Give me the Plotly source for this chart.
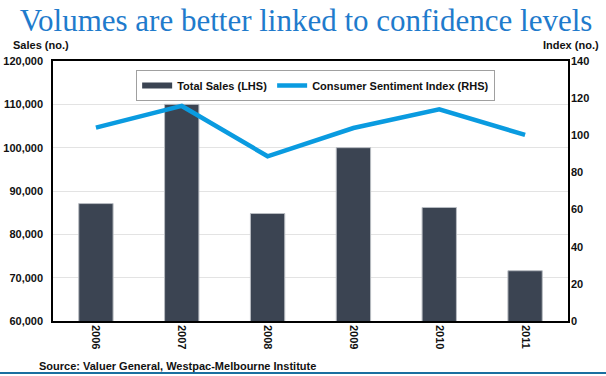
import plotly.graph_objects as go

years = ["2006", "2007", "2008", "2009", "2010", "2011"]
total_sales = [87100, 110000, 84800, 100000, 86200, 71600]
sentiment = [104.1, 115.8, 88.7, 103.9, 114.0, 100.2]
left_ticks = [60000, 70000, 80000, 90000, 100000, 110000, 120000]
right_ticks = [0, 20, 40, 60, 80, 100, 120, 140]

BAR_COLOR = "#3b4452"
LINE_COLOR = "#0a9be0"
bold11 = dict(family="Liberation Sans, Arial", size=11, color="#111111", weight="bold")

fig = go.Figure()
fig.add_trace(go.Bar(
    x=years, y=total_sales, name="Total Sales (LHS)",
    marker=dict(color=BAR_COLOR, line=dict(color="#b8bcc2", width=1)),
    yaxis="y", showlegend=False,
))
# legend entry styled like the reference (wide bar swatch)
fig.add_trace(go.Scatter(
    x=[None], y=[None], name="Total Sales (LHS)", mode="lines",
    line=dict(color=BAR_COLOR, width=6), yaxis="y",
))
fig.add_trace(go.Scatter(
    x=years, y=sentiment, name="Consumer Sentiment Index (RHS)",
    mode="lines", line=dict(color=LINE_COLOR, width=4.5),
    yaxis="y2",
))

fig.update_layout(
    width=606, height=376,
    margin=dict(l=53, r=38, t=61, b=55, autoexpand=False),
    paper_bgcolor="white", plot_bgcolor="white",
    bargap=0.6,
    title=dict(
        text="Volumes are better linked to confidence levels",
        xref="container", yref="container", x=0.505, y=0.975,
        xanchor="center", yanchor="top",
        font=dict(family="Liberation Serif, Times New Roman", size=31, color="#1f7bcc"),
        pad=dict(t=0, b=0, l=0, r=0),
    ),
    showlegend=True,
    legend=dict(
        orientation="h", x=0.51, y=0.965, xanchor="center", yanchor="top",
        bordercolor="#a0a0a0", borderwidth=1, bgcolor="white",
        font=bold11, itemwidth=30, tracegroupgap=0,
    ),
    xaxis=dict(
        type="category", tickangle=90, showgrid=False, automargin=False,
        showline=True, linecolor="black", linewidth=1.5, mirror=True,
        ticks="", tickfont=bold11,
    ),
    yaxis=dict(
        range=[60000, 120000], tickvals=left_ticks, automargin=False,
        ticktext=[f"{v:,}" for v in left_ticks],
        showgrid=True, gridcolor="#e3e3e3", gridwidth=1,
        showline=True, linecolor="black", linewidth=1.5, mirror=True,
        ticks="", ticklabelstandoff=6, tickfont=bold11, zeroline=False,
    ),
    yaxis2=dict(
        range=[0, 140], tickvals=right_ticks, overlaying="y", side="right",
        automargin=False, showgrid=False, showline=False, ticks="", zeroline=False,
        ticklabelstandoff=2, tickfont=bold11,
    ),
)

fig.add_annotation(text="Sales (no.)", xref="paper", yref="paper", x=0, y=1,
                   xanchor="center", yanchor="bottom", xshift=-12, yshift=8,
                   showarrow=False, font=bold11)
fig.add_annotation(text="Index (no.)", xref="paper", yref="paper", x=1, y=1,
                   xanchor="right", yanchor="bottom", xshift=33, yshift=8,
                   showarrow=False, font=bold11)
fig.add_annotation(text="Source: Valuer General, Westpac-Melbourne Institute",
                   xref="paper", yref="paper", x=0, y=0, xanchor="left", yanchor="top",
                   xshift=-16, yshift=-37, showarrow=False, font=bold11)
fig.add_shape(type="line", xref="paper", yref="paper", x0=-0.2, x1=1.2, y0=-0.2, y1=-0.2,
              line=dict(color="#1a6fa0", width=2))

fig.write_html("out.html", config={"displayModeBar": False},
               post_script="document.body.style.margin='0';document.body.style.overflow='hidden';")
